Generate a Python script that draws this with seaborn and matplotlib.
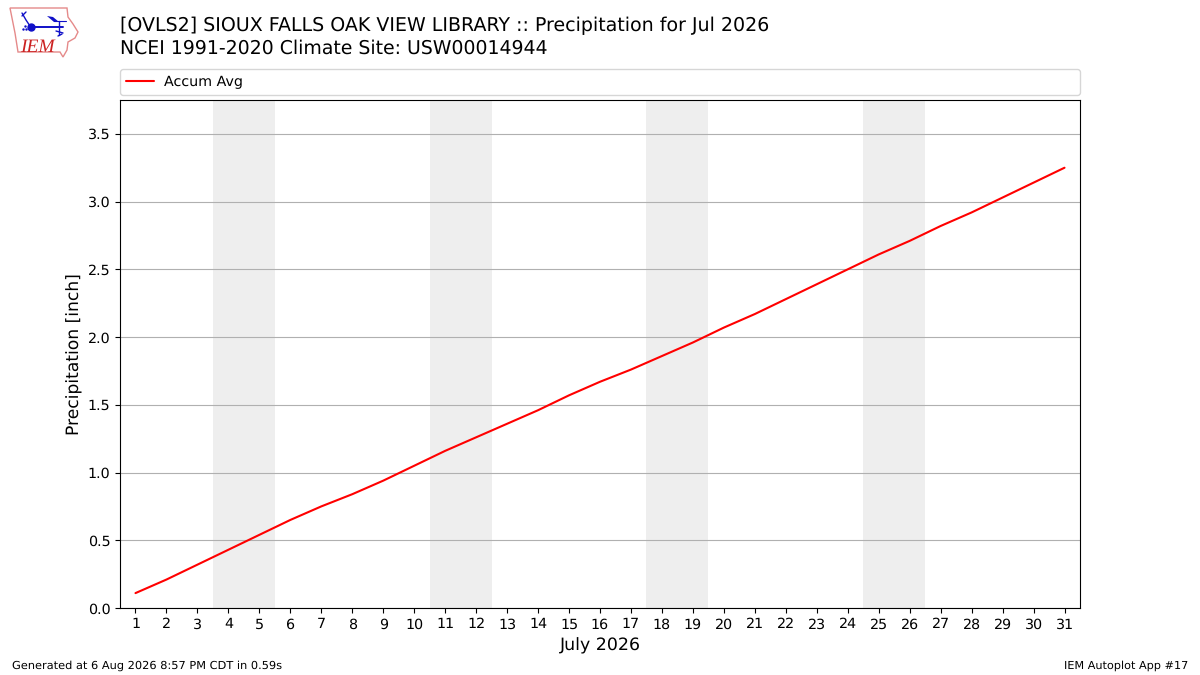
import matplotlib
matplotlib.use("Agg")
import matplotlib.pyplot as plt
import pandas as pd
import seaborn as sns
from matplotlib.patches import Polygon

# Accumulated climatology
days = list(range(1, 32))
accum_avg = [0.11, 0.21, 0.32, 0.43, 0.54, 0.65, 0.75, 0.84, 0.94, 1.05, 1.16,
             1.26, 1.36, 1.46, 1.57, 1.67, 1.76, 1.86, 1.96, 2.07, 2.17, 2.28,
             2.39, 2.50, 2.61, 2.71, 2.82, 2.92, 3.03, 3.14, 3.25]
weekends = [(3.5, 5.5), (10.5, 12.5), (17.5, 19.5), (24.5, 26.5)]
y_ticks = [0.0, 0.5, 1.0, 1.5, 2.0, 2.5, 3.0, 3.5]

title = "[OVLS2] SIOUX FALLS OAK VIEW LIBRARY :: Precipitation for Jul 2026\nNCEI 1991-2020 Climate Site: USW00014944"
footer_left = "Generated at 6 Aug 2026 8:57 PM CDT in 0.59s"
footer_right = "IEM Autoplot App #17"

W, H = 1200, 675

df = pd.DataFrame({"day": days, "Accum Avg": accum_avg})

sns.set_style("ticks")
plt.rcParams["font.family"] = ["DejaVu Sans"]
plt.rcParams["text.hinting"] = "none"
plt.rcParams["text.color"] = "black"
plt.rcParams["axes.labelcolor"] = "black"
plt.rcParams["xtick.color"] = "black"
plt.rcParams["ytick.color"] = "black"

fig = plt.figure(figsize=(W / 100, H / 100), dpi=100)
ax = fig.add_axes([120 / W, 1 - 608 / H, 960 / W, 508 / H])

for start, end in weekends:
    ax.axvspan(start, end, color="#eeeeee", lw=0, zorder=0)

sns.lineplot(data=df, x="day", y="Accum Avg", color="red", lw=1.5, ax=ax,
             label="Accum Avg", errorbar=None)
ax.grid(True, axis="y", color="#b0b0b0", lw=0.8)
ax.set_axisbelow(True)

ax.set_xlim(0.5, 31.5)
ax.set_ylim(0, 3.75)
ax.set_xticks(days)
ax.set_yticks(y_ticks)
ax.tick_params(labelsize=10.3, length=3.5, width=0.8)
ax.set_xlabel("July 2026", fontsize=12.5, labelpad=4.5)
ax.set_ylabel("Precipitation [inch]", fontsize=12.3, labelpad=3)
for spine in ax.spines.values():
    spine.set_visible(True)
    spine.set_linewidth(0.8)
    spine.set_color("black")

# legend stretched over the width of the axes
ax.legend(loc="lower left", bbox_to_anchor=(0, 1 + 5 / 508, 1, 0.052), mode="expand",
          ncol=1, fontsize=10.25, frameon=True, borderaxespad=0, handletextpad=0.65,
          borderpad=0.42)

fig.text(120 / W, 1 - 31 / H, title.split("\n")[0], fontsize=13.65, color="black", va="baseline")
fig.text(120 / W, 1 - 54 / H, title.split("\n")[1], fontsize=13.6, color="black", va="baseline")
fig.text(12 / W, 1 - 669 / H, footer_left, fontsize=8.2, color="black", va="baseline")
fig.text(1188 / W, 1 - 669 / H, footer_right, fontsize=8.15, color="black", ha="right", va="baseline")

# IEM logo, redrawn in figure pixels
logo = fig.add_axes([0, 1 - 62 / H, 90 / W, 62 / H])
logo.set_xlim(0, 90)
logo.set_ylim(62, 0)
logo.axis("off")
outline = [(10, 8), (67, 8), (68, 17), (73, 24), (78, 32), (75, 38), (68, 42),
           (67, 50), (63, 57), (60, 52), (18, 52), (15, 33)]
logo.add_patch(Polygon(outline, closed=True, fill=False, ec="#e58a8a", lw=1.0))
logo.plot([31, 63], [27, 27], color="#1010c8", lw=1.4)
logo.plot([31], [27], "o", color="#1010c8", ms=5)
logo.plot([22, 26, 30], [13, 20, 26], color="#1010c8", lw=1.0)
logo.plot([22, 26], [16, 12], color="#1010c8", lw=1.0)
logo.plot([59, 59], [21, 35], color="#1010c8", lw=1.0)
logo.plot([56, 63], [31, 33], color="#1010c8", lw=1.0)
logo.plot([58, 62], [36, 34], color="#1010c8", lw=1.0)
logo.add_patch(Polygon([(47, 16), (53, 17), (59, 22), (54, 22)], closed=True, fc="#1010c8", ec="none"))
logo.plot([54, 66], [21, 21], color="#1010c8", lw=0.8)
logo.plot([23, 25, 26], [29, 26, 29], ".", color="#1010c8", ms=1.5)
logo.text(20, 52, "IEM", fontsize=14, color="#cc2222", family="Liberation Serif",
          style="italic", va="baseline")

fig.savefig("out.png", dpi=100)
